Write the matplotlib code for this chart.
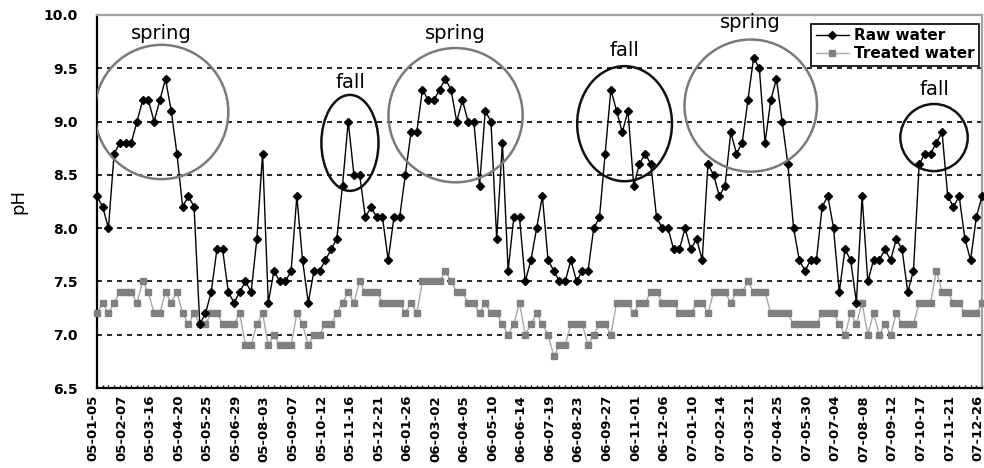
import matplotlib
matplotlib.use("Agg")
import matplotlib.pyplot as plt
from matplotlib.patches import Ellipse
from matplotlib.lines import Line2D
from matplotlib.transforms import ScaledTranslation
import numpy as np

# Weekly pH readings, Jan 2005 - Dec 2007
raw_water = [
    8.3, 8.2, 8.0, 8.7, 8.8, 8.8, 8.8, 9.0, 9.2, 9.2,
    9.0, 9.2, 9.4, 9.1, 8.7, 8.2, 8.3, 8.2, 7.1, 7.2,
    7.4, 7.8, 7.8, 7.4, 7.3, 7.4, 7.5, 7.4, 7.9, 8.7,
    7.3, 7.6, 7.5, 7.5, 7.6, 8.3, 7.7, 7.3, 7.6, 7.6,
    7.7, 7.8, 7.9, 8.4, 9.0, 8.5, 8.5, 8.1, 8.2, 8.1,
    8.1, 7.7, 8.1, 8.1, 8.5, 8.9, 8.9, 9.3, 9.2, 9.2,
    9.3, 9.4, 9.3, 9.0, 9.2, 9.0, 9.0, 8.4, 9.1, 9.0,
    7.9, 8.8, 7.6, 8.1, 8.1, 7.5, 7.7, 8.0, 8.3, 7.7,
    7.6, 7.5, 7.5, 7.7, 7.5, 7.6, 7.6, 8.0, 8.1, 8.7,
    9.3, 9.1, 8.9, 9.1, 8.4, 8.6, 8.7, 8.6, 8.1, 8.0,
    8.0, 7.8, 7.8, 8.0, 7.8, 7.9, 7.7, 8.6, 8.5, 8.3,
    8.4, 8.9, 8.7, 8.8, 9.2, 9.6, 9.5, 8.8, 9.2, 9.4,
    9.0, 8.6, 8.0, 7.7, 7.6, 7.7, 7.7, 8.2, 8.3, 8.0,
    7.4, 7.8, 7.7, 7.3, 8.3, 7.5, 7.7, 7.7, 7.8, 7.7,
    7.9, 7.8, 7.4, 7.6, 8.6, 8.7, 8.7, 8.8, 8.9, 8.3,
    8.2, 8.3, 7.9, 7.7, 8.1, 8.3,
]
treated_water = [
    7.2, 7.3, 7.2, 7.3, 7.4, 7.4, 7.4, 7.3, 7.5, 7.4,
    7.2, 7.2, 7.4, 7.3, 7.4, 7.2, 7.1, 7.2, 7.1, 7.1,
    7.2, 7.2, 7.1, 7.1, 7.1, 7.2, 6.9, 6.9, 7.1, 7.2,
    6.9, 7.0, 6.9, 6.9, 6.9, 7.2, 7.1, 6.9, 7.0, 7.0,
    7.1, 7.1, 7.2, 7.3, 7.4, 7.3, 7.5, 7.4, 7.4, 7.4,
    7.3, 7.3, 7.3, 7.3, 7.2, 7.3, 7.2, 7.5, 7.5, 7.5,
    7.5, 7.6, 7.5, 7.4, 7.4, 7.3, 7.3, 7.2, 7.3, 7.2,
    7.2, 7.1, 7.0, 7.1, 7.3, 7.0, 7.1, 7.2, 7.1, 7.0,
    6.8, 6.9, 6.9, 7.1, 7.1, 7.1, 6.9, 7.0, 7.1, 7.1,
    7.0, 7.3, 7.3, 7.3, 7.2, 7.3, 7.3, 7.4, 7.4, 7.3,
    7.3, 7.3, 7.2, 7.2, 7.2, 7.3, 7.3, 7.2, 7.4, 7.4,
    7.4, 7.3, 7.4, 7.4, 7.5, 7.4, 7.4, 7.4, 7.2, 7.2,
    7.2, 7.2, 7.1, 7.1, 7.1, 7.1, 7.1, 7.2, 7.2, 7.2,
    7.1, 7.0, 7.2, 7.1, 7.3, 7.0, 7.2, 7.0, 7.1, 7.0,
    7.2, 7.1, 7.1, 7.1, 7.3, 7.3, 7.3, 7.6, 7.4, 7.4,
    7.3, 7.3, 7.2, 7.2, 7.2, 7.3,
]
date_labels = [
    "05-01-05", "05-02-07", "05-03-16", "05-04-20", "05-05-25", "05-06-29",
    "05-08-03", "05-09-07", "05-10-12", "05-11-16", "05-12-21", "06-01-26",
    "06-03-02", "06-04-05", "06-05-10", "06-06-14", "06-07-19", "06-08-23",
    "06-09-27", "06-11-01", "06-12-06", "07-01-10", "07-02-14", "07-03-21",
    "07-04-25", "07-05-30", "07-07-04", "07-08-08", "07-09-12", "07-10-17",
    "07-11-21", "07-12-26",
]
label_step = 5

# seasonal highlights: text, centre (week, pH), width (weeks), height (pH), colour, text height
seasons = [
    ("spring", 11.3, 9.09, 23.4, 1.26, "#7a7a7a", 9.83),
    ("fall", 44.3, 8.80, 10.0, 0.90, "#111111", 9.37),
    ("spring", 62.8, 9.06, 23.5, 1.26, "#7a7a7a", 9.83),
    ("fall", 92.4, 8.98, 16.6, 1.08, "#111111", 9.67),
    ("spring", 114.5, 9.15, 23.2, 1.24, "#7a7a7a", 9.93),
    ("fall", 146.6, 8.85, 11.8, 0.63, "#111111", 9.30),
]

weeks = np.arange(len(raw_water))

fig = plt.figure(figsize=(9.84, 4.68), dpi=100)
ax = fig.add_axes([97 / 984, 1 - 388 / 468, 885 / 984, 373 / 468])

# dashed horizontal grid
for level in np.arange(7.0, 9.51, 0.5):
    ax.axhline(level, color="black", lw=1.2, ls=(0, (3, 3)), zorder=1)

ax.plot(weeks, treated_water, color="#a8a8a8", lw=1.0, marker="s", ms=4.5,
        mfc="#808080", mec="#808080", clip_on=False, zorder=3)
ax.plot(weeks, raw_water, color="black", lw=1.0, marker="D", ms=4.2,
        mfc="black", mec="black", clip_on=False, zorder=4)

for text, cx, cy, w, h, col, ty in seasons:
    ax.add_patch(Ellipse((cx, cy), w, h, fill=False, ec=col, lw=1.8, zorder=5))
    ax.text(cx, ty, text, ha="center", va="center", fontsize=14, zorder=6)

ax.set_xlim(0, len(raw_water) - 1)
ax.set_ylim(6.5, 10.0)

ax.set_xticks(weeks[::label_step])
ax.set_xticklabels(date_labels, rotation=90, fontsize=9.5, fontweight="bold")
ax.set_xticks(weeks, minor=True)
ax.tick_params(axis="x", which="both", direction="in", length=2.5, width=1,
               pad=5)
# nudge the rotated dates slightly left so the last one stays inside
shift = ScaledTranslation(-4 / 100, 0, fig.dpi_scale_trans)
for lbl in ax.get_xticklabels():
    lbl.set_transform(lbl.get_transform() + shift)

ax.set_yticks(np.arange(6.5, 10.01, 0.5))
ax.set_yticklabels([f"{v:.1f}" for v in np.arange(6.5, 10.01, 0.5)],
                   fontsize=10, fontweight="bold")
ax.tick_params(axis="y", length=0, pad=14)

ax.set_ylabel("pH", fontsize=13)
ax.yaxis.set_label_coords(-0.079, 0.5)

for side in ("left", "bottom"):
    ax.spines[side].set_color("black")
    ax.spines[side].set_linewidth(1.6)
for side in ("top", "right"):
    ax.spines[side].set_color("#a0a0a0")
    ax.spines[side].set_linewidth(1.6)

handles = [
    Line2D([], [], color="black", lw=1.0, marker="D", ms=4.2),
    Line2D([], [], color="#a8a8a8", lw=1.0, marker="s", ms=4.5,
           mfc="#808080", mec="#808080"),
]
leg = ax.legend(handles, ["Raw water", "Treated water"], loc="upper right",
                bbox_to_anchor=(1.0, 0.985), fancybox=False, framealpha=1,
                edgecolor="black", prop={"size": 11, "weight": "bold"},
                handlelength=2.2, handletextpad=0.3, borderpad=0.3,
                labelspacing=0.2, borderaxespad=0.2)
leg.get_frame().set_linewidth(1.2)
leg.set_zorder(7)

fig.savefig("out.png", dpi=100)
